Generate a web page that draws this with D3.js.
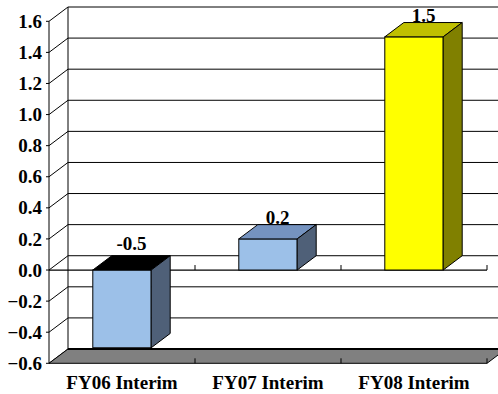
<!DOCTYPE html>
<html>
<head>
<meta charset="utf-8">
<script src="https://cdn.jsdelivr.net/npm/d3@7"></script>
<style>
  html, body { margin: 0; padding: 0; background: #fff; }
  svg { display: block; }
  text { font-family: "Liberation Serif", "Times New Roman", serif; font-weight: bold; fill: #000; }
</style>
</head>
<body>
<div id="chart"></div>
<script>
// Interim results by fiscal year
const categories = ["FY06 Interim", "FY07 Interim", "FY08 Interim"];
const values = [-0.5, 0.2, 1.5];
const valueLabels = ["-0.5", "0.2", "1.5"];
const tickValues = [-0.6, -0.4, -0.2, 0.0, 0.2, 0.4, 0.6, 0.8, 1.0, 1.2, 1.4, 1.6];

// Face colours per bar: front, top, side
const frontColors = ["#9CC0E8", "#9CC0E8", "#FFFF00"];
const topColors = ["#000000", "#7593C0", "#C0C000"];
const sideColors = ["#4F6078", "#4F6078", "#808000"];

const W = 498, H = 394;
const left = 49, right = 487;
const dx = 19, dy = -14.3;   // depth offset of the 3D box

const svg = d3.select("#chart").append("svg")
  .attr("width", W).attr("height", H);

const y = d3.scaleLinear().domain([-0.6, 1.6]).range([363.3, 21.3]);
const x = d3.scaleBand().domain(categories).range([left, right])
  .paddingInner(0.6).paddingOuter(0.3);

const line = (x1, y1, x2, y2, w = 1) => svg.append("line")
  .attr("x1", x1).attr("y1", y1).attr("x2", x2).attr("y2", y2)
  .attr("stroke", "#000").attr("stroke-width", w);

// Back wall gridlines
svg.append("g").selectAll("line").data(tickValues.slice(1)).join("line")
  .attr("x1", left + dx).attr("x2", right + dx)
  .attr("y1", d => y(d) + dy).attr("y2", d => y(d) + dy)
  .attr("stroke", "#000").attr("stroke-width", 1);

// Back wall left edge and front value axis
line(left + dx, y(1.6) + dy, left + dx, y(-0.6) + dy);
line(left, y(1.6), left, y(-0.6));

// Side wall gridlines and small outer ticks
svg.append("g").selectAll("line").data(tickValues).join("line")
  .attr("x1", left).attr("x2", left + dx)
  .attr("y1", d => y(d)).attr("y2", d => y(d) + dy)
  .attr("stroke", "#000").attr("stroke-width", 1);
svg.append("g").selectAll("line").data(tickValues).join("line")
  .attr("x1", left - 3).attr("x2", left)
  .attr("y1", d => y(d)).attr("y2", d => y(d))
  .attr("stroke", "#000").attr("stroke-width", 1);

// Value axis tick labels
svg.append("g").selectAll("text").data(tickValues).join("text")
  .attr("x", 42).attr("y", d => y(d))
  .attr("dy", "0.35em")
  .attr("text-anchor", "end")
  .style("font-size", "19px")
  .text(d => d3.format(".1f")(d));

// Floor
const yf = y(-0.6);
svg.append("polygon")
  .attr("points", [[left, yf], [right, yf], [right + dx, yf + dy], [left + dx, yf + dy]].join(" "))
  .attr("fill", "#808080").attr("stroke", "#000").attr("stroke-width", 1);
line(left + dx, yf + dy, right + dx, yf + dy, 2);

// Category boundary ticks on floor edge and on the zero line
const bounds = categories.map(c => x(c) - x.step() * x.paddingInner() / 2 + x.step());
line(left, y(0), right, y(0), 1.2);
svg.append("g").selectAll("line").data(bounds).join("line")
  .attr("x1", d => d).attr("x2", d => d)
  .attr("y1", y(0)).attr("y2", y(0) - 5)
  .attr("stroke", "#000");
svg.append("g").selectAll("line").data(bounds.slice(0, -1)).join("line")
  .attr("x1", d => d).attr("x2", d => d)
  .attr("y1", yf).attr("y2", yf - 5)
  .attr("stroke", "#000");
line(right, yf, right, yf - 5);

// 3D bars
const bw = x.bandwidth();
const bars = svg.append("g").selectAll("g").data(values).join("g");
bars.each(function(v, i) {
  const g = d3.select(this);
  const x0 = x(categories[i]);
  const yTop = y(Math.max(v, 0));
  const yBot = y(Math.min(v, 0));
  g.append("rect")
    .attr("x", x0).attr("y", yTop).attr("width", bw).attr("height", yBot - yTop)
    .attr("fill", frontColors[i]).attr("stroke", "#000").attr("stroke-width", 1);
  g.append("polygon")
    .attr("points", [[x0, yTop], [x0 + bw, yTop], [x0 + bw + dx, yTop + dy], [x0 + dx, yTop + dy]].join(" "))
    .attr("fill", topColors[i]).attr("stroke", "#000").attr("stroke-width", 1);
  g.append("polygon")
    .attr("points", [[x0 + bw, yTop], [x0 + bw + dx, yTop + dy], [x0 + bw + dx, yBot + dy], [x0 + bw, yBot]].join(" "))
    .attr("fill", sideColors[i]).attr("stroke", "#000").attr("stroke-width", 1);
  g.append("text")
    .attr("x", x0 + bw / 2 + dx / 2)
    .attr("y", yTop + dy - (v < 0 ? 6 : 1))
    .attr("text-anchor", "middle")
    .style("font-size", "19px")
    .text(valueLabels[i]);
});

// Category labels
svg.append("g").selectAll("text").data(categories).join("text")
  .attr("x", d => x(d) + bw / 2)
  .attr("y", 389)
  .attr("text-anchor", "middle")
  .style("font-size", "19px")
  .text(d => d);
</script>
</body>
</html>
